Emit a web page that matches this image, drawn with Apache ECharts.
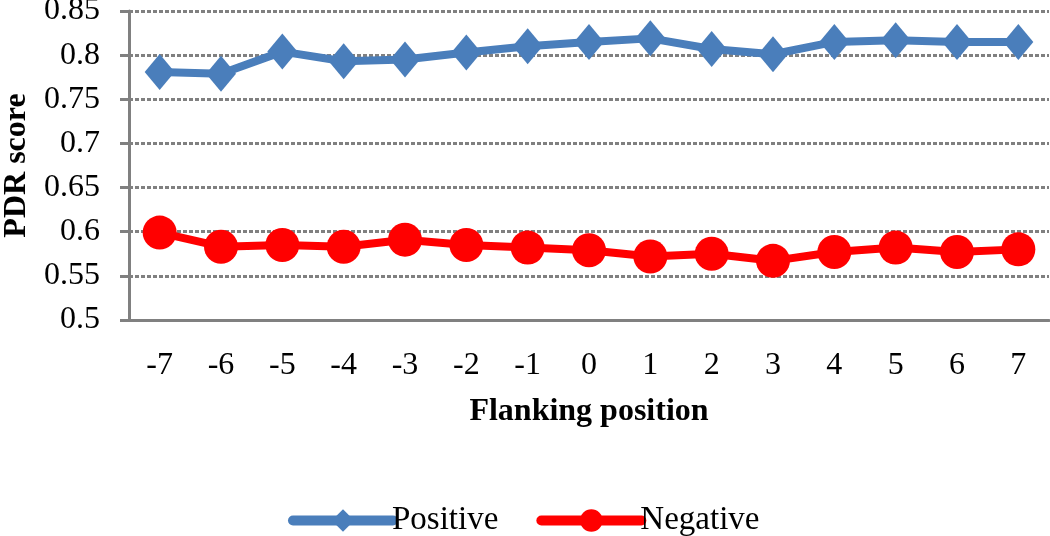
<!DOCTYPE html>
<html>
<head>
<meta charset="utf-8">
<script src="https://cdn.jsdelivr.net/npm/echarts@6/dist/echarts.min.js"></script>
<style>html,body{margin:0;padding:0;background:#fff;}#c{width:1050px;height:536px;}</style>
</head>
<body>
<div id="c"></div>
<script>
const categories = ['-7','-6','-5','-4','-3','-2','-1','0','1','2','3','4','5','6','7'];
const positive = [0.781,0.779,0.804,0.793,0.795,0.803,0.810,0.815,0.819,0.807,0.801,0.815,0.817,0.815,0.815];
const negative = [0.599,0.583,0.585,0.583,0.591,0.585,0.582,0.579,0.572,0.575,0.567,0.577,0.582,0.577,0.580];
const yTicks = {min:0.5, max:0.85, interval:0.05};

const font = 'Liberation Serif';
const chart = echarts.init(document.getElementById('c'));
chart.setOption({
  animation:false,
  backgroundColor:'#fff',
  grid:{left:129, right:1, top:11, bottom:216, outerBoundsMode:'none', containLabel:false},
  legend:{
    top:499, left:283,
    itemWidth:100, itemHeight:28, itemGap:38,
    lineStyle:{width:10, cap:'round'},
    textStyle:{fontFamily:font, fontSize:33, color:'#000', padding:[0,0,0,-6]},
    data:['Positive','Negative']
  },
  xAxis:{
    type:'category', data:categories, boundaryGap:true,
    axisLine:{lineStyle:{color:'#808080', width:3}},
    axisTick:{show:false},
    axisLabel:{fontFamily:font, fontSize:32, color:'#000', margin:30},
    name:'Flanking position', nameLocation:'middle', nameGap:76,
    nameTextStyle:{fontFamily:font, fontSize:32, fontWeight:'bold', color:'#000'}
  },
  yAxis:{
    type:'value', min:yTicks.min, max:yTicks.max, interval:yTicks.interval,
    axisLine:{show:true, lineStyle:{color:'#808080', width:3}},
    axisTick:{show:true, length:9, lineStyle:{color:'#808080', width:3}},
    axisLabel:{fontFamily:font, fontSize:32, color:'#000', margin:29,
      formatter:v=>String(parseFloat(v.toFixed(2)))},
    splitLine:{lineStyle:{color:'#808080', width:3, type:[4,2]}},
    name:'PDR score', nameLocation:'middle', nameGap:96,
    nameTextStyle:{fontFamily:font, fontSize:32, fontWeight:'bold', color:'#000'}
  },
  series:[
    {name:'Positive', type:'line', data:positive, symbol:'diamond', symbolSize:[30,36],
     color:'#4a7ebb', lineStyle:{width:8, color:'#4a7ebb'}, itemStyle:{color:'#4a7ebb'}},
    {name:'Negative', type:'line', data:negative, symbol:'circle', symbolSize:34,
     color:'#ff0000', lineStyle:{width:8, color:'#ff0000'}, itemStyle:{color:'#ff0000'}}
  ]
});
</script>
</body>
</html>
